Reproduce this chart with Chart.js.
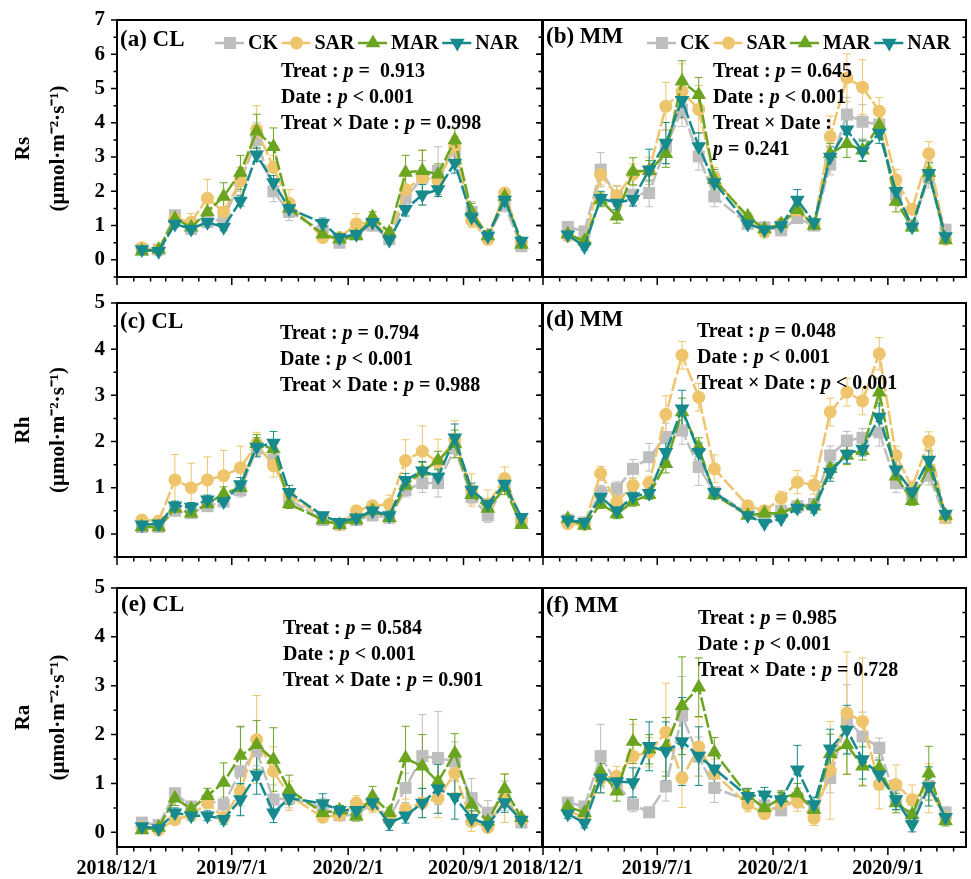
<!DOCTYPE html>
<html>
<head>
<meta charset="utf-8">
<script src="https://cdn.jsdelivr.net/npm/chart.js@4.4.1/dist/chart.umd.min.js"></script>
<style>
  body { margin: 0; background: #fff; }
  #fig { position: relative; width: 971px; height: 879px; overflow: hidden;
         font-family: "Liberation Serif", "Times New Roman", serif; color: #000; }
  #fig canvas { position: absolute; }
  .tag  { position: absolute; font-weight: bold; font-size: 23px; line-height: 26px; white-space: pre; }
  .stat { position: absolute; font-weight: bold; font-size: 20px; line-height: 26px; white-space: pre; }
</style>
</head>
<body>
<div id="fig">
  <canvas id="pA" width="543" height="289" style="left:0;top:0"></canvas>
  <canvas id="pB" width="488" height="289" style="left:483px;top:0"></canvas>
  <canvas id="pC" width="543" height="278" style="left:0;top:291px"></canvas>
  <canvas id="pD" width="488" height="278" style="left:483px;top:291px"></canvas>
  <canvas id="pE" width="543" height="307" style="left:0;top:572px"></canvas>
  <canvas id="pF" width="488" height="307" style="left:483px;top:572px"></canvas>

  <div class="tag" style="left:120px;top:26px">(a) CL</div>
  <div class="tag" style="left:546px;top:23px">(b) MM</div>
  <div class="tag" style="left:120px;top:308px">(c) CL</div>
  <div class="tag" style="left:546px;top:306px">(d) MM</div>
  <div class="tag" style="left:121px;top:591px">(e) CL</div>
  <div class="tag" style="left:546px;top:592px">(f) MM</div>

  <div class="stat" style="left:281px;top:57px">Treat : <i>p</i> =  0.913
Date : <i>p</i> &lt; 0.001
Treat × Date : <i>p</i> = 0.998</div>
  <div class="stat" style="left:713px;top:57px">Treat : <i>p</i> = 0.645
Date : <i>p</i> &lt; 0.001
Treat × Date :
<i>p</i> = 0.241</div>
  <div class="stat" style="left:280px;top:319px">Treat : <i>p</i> = 0.794
Date : <i>p</i> &lt; 0.001
Treat × Date : <i>p</i> = 0.988</div>
  <div class="stat" style="left:697px;top:317px">Treat : <i>p</i> = 0.048
Date : <i>p</i> &lt; 0.001
Treat × Date : <i>p</i> &lt; 0.001</div>
  <div class="stat" style="left:283px;top:614px">Treat : <i>p</i> = 0.584
Date : <i>p</i> &lt; 0.001
Treat × Date : <i>p</i> = 0.901</div>
  <div class="stat" style="left:698px;top:604px">Treat : <i>p</i> = 0.985
Date : <i>p</i> &lt; 0.001
Treat × Date : <i>p</i> = 0.728</div>
</div>

<script>
/* ---------- data ---------- */
// monthly sampling dates (no sample in Nov 2019)
const sampleDates = ['2019/1/16', '2019/2/16', '2019/3/18', '2019/4/17', '2019/5/17', '2019/6/16',
  '2019/7/17', '2019/8/16', '2019/9/16', '2019/10/15', '2019/12/16', '2020/1/16', '2020/2/16',
  '2020/3/17', '2020/4/17', '2020/5/17', '2020/6/17', '2020/7/16', '2020/8/16', '2020/9/16',
  '2020/10/16', '2020/11/16', '2020/12/17'];
const xTickLabels = ['2018/12/1', '2019/7/1', '2020/2/1', '2020/9/1'];
const rsTicks = [0, 1, 2, 3, 4, 5, 6, 7];
const rhTicks = [0, 1, 2, 3, 4, 5];
const raTicks = [0, 1, 2, 3, 4, 5];

// (a) Rs, CL
const rsClCK  = [0.3, 0.3, 1.3, 0.9, 1.1, 1.2, 2.3, 3.5, 2.0, 1.4, 0.85, 0.5, 0.75, 1.0, 0.6, 1.8, 2.4, 2.6, 3.2, 1.4, 0.7, 1.6, 0.4];
const rsClSAR = [0.35, 0.3, 1.2, 1.1, 1.8, 1.4, 2.3, 3.8, 2.7, 1.65, 0.65, 0.65, 1.05, 1.1, 0.7, 2.05, 2.4, 2.3, 3.3, 1.15, 0.6, 1.95, 0.5];
const rsClMAR = [0.25, 0.3, 1.2, 0.95, 1.4, 1.85, 2.55, 3.75, 3.3, 1.5, 0.75, 0.6, 0.7, 1.25, 0.8, 2.55, 2.6, 2.5, 3.5, 1.4, 0.7, 1.85, 0.45];
const rsClNAR = [0.3, 0.25, 1.05, 0.9, 1.1, 0.95, 1.72, 3.07, 2.26, 1.5, 1.07, 0.65, 0.75, 1.1, 0.58, 1.48, 1.9, 2.05, 2.83, 1.25, 0.7, 1.75, 0.55];
const rsClCKsd  = [0.05, 0.05, 0.15, 0.1, 0.15, 0.2, 0.3, 0.5, 0.3, 0.25, 0.15, 0.1, 0.1, 0.15, 0.1, 0.3, 0.5, 0.7, 0.3, 0.3, 0.1, 0.2, 0.1];
const rsClSARsd = [0.05, 0.05, 0.2, 0.25, 0.55, 0.35, 0.4, 0.7, 0.35, 0.4, 0.1, 0.1, 0.3, 0.1, 0.1, 0.4, 0.8, 0.4, 0.3, 0.2, 0.1, 0.1, 0.1];
const rsClMARsd = [0.05, 0.05, 0.15, 0.1, 0.3, 0.4, 0.5, 0.5, 0.55, 0.2, 0.15, 0.1, 0.1, 0.15, 0.1, 0.5, 0.6, 0.3, 0.35, 0.25, 0.1, 0.1, 0.1];
const rsClNARsd = [0.05, 0.05, 0.1, 0.1, 0.1, 0.1, 0.15, 0.2, 0.2, 0.15, 0.15, 0.1, 0.1, 0.1, 0.1, 0.2, 0.3, 0.2, 0.3, 0.15, 0.1, 0.1, 0.1];

// (b) Rs, MM
const rsMmCK  = [0.96, 0.83, 2.63, 1.85, 1.9, 1.95, 3.3, 4.39, 3.02, 1.85, 1.05, 0.95, 0.86, 1.22, 1.0, 2.78, 4.24, 4.03, 3.95, 1.9, 1.0, 2.4, 0.88];
const rsMmSAR = [0.7, 0.5, 2.49, 1.87, 2.5, 2.6, 4.48, 4.92, 4.39, 2.4, 1.2, 0.81, 1.05, 1.45, 1.05, 3.6, 5.31, 5.04, 4.34, 2.34, 1.48, 3.1, 0.6];
const rsMmMAR = [0.75, 0.55, 1.75, 1.27, 2.58, 2.6, 3.1, 5.21, 4.82, 2.34, 1.27, 0.9, 1.05, 1.46, 1.0, 3.1, 3.39, 3.2, 3.92, 1.7, 0.95, 2.55, 0.58];
const rsMmNAR = [0.73, 0.39, 1.8, 1.66, 1.77, 2.63, 3.41, 4.66, 3.31, 2.26, 1.05, 0.88, 1.0, 1.75, 1.09, 3.0, 3.8, 3.17, 3.7, 2.0, 0.97, 2.53, 0.68];
const rsMmCKsd  = [0.1, 0.1, 0.5, 0.3, 0.3, 0.4, 0.5, 0.5, 0.4, 0.3, 0.1, 0.1, 0.1, 0.15, 0.1, 0.3, 0.5, 0.5, 0.3, 0.3, 0.1, 0.3, 0.1];
const rsMmSARsd = [0.1, 0.1, 0.3, 0.3, 0.3, 0.4, 0.7, 0.8, 0.7, 0.3, 0.1, 0.1, 0.15, 0.2, 0.1, 0.6, 0.7, 0.8, 0.4, 0.3, 0.15, 0.35, 0.1];
const rsMmMARsd = [0.1, 0.1, 0.2, 0.2, 0.4, 0.3, 0.4, 0.6, 0.5, 0.3, 0.1, 0.1, 0.1, 0.2, 0.1, 0.3, 0.4, 0.3, 0.3, 0.3, 0.1, 0.3, 0.1];
const rsMmNARsd = [0.1, 0.1, 0.2, 0.2, 0.2, 0.6, 0.6, 0.5, 0.4, 0.3, 0.1, 0.1, 0.1, 0.3, 0.1, 0.3, 0.4, 0.3, 0.3, 0.3, 0.1, 0.3, 0.1];

// (c) Rh, CL
const rhClCK  = [0.15, 0.15, 0.5, 0.45, 0.6, 0.7, 0.95, 1.85, 1.6, 0.75, 0.3, 0.2, 0.3, 0.4, 0.35, 0.95, 1.1, 1.1, 1.85, 0.8, 0.4, 1.05, 0.25];
const rhClSAR = [0.3, 0.28, 1.17, 1.0, 1.17, 1.26, 1.43, 1.95, 1.48, 0.85, 0.35, 0.2, 0.5, 0.61, 0.64, 1.59, 1.79, 1.55, 2.05, 0.95, 0.65, 1.2, 0.3];
const rhClMAR = [0.15, 0.15, 0.55, 0.45, 0.65, 0.87, 1.0, 1.95, 1.84, 0.65, 0.3, 0.2, 0.3, 0.5, 0.35, 1.05, 1.35, 1.59, 1.95, 0.85, 0.55, 1.0, 0.2];
const rhClNAR = [0.2, 0.22, 0.61, 0.58, 0.74, 0.7, 1.07, 1.88, 1.97, 0.9, 0.4, 0.25, 0.35, 0.5, 0.4, 1.16, 1.37, 1.23, 2.08, 0.95, 0.65, 1.08, 0.36];
const rhClCKsd  = [0.05, 0.05, 0.1, 0.1, 0.1, 0.1, 0.15, 0.2, 0.2, 0.1, 0.05, 0.05, 0.05, 0.1, 0.1, 0.15, 0.2, 0.3, 0.2, 0.15, 0.15, 0.1, 0.05];
const rhClSARsd = [0.05, 0.05, 0.55, 0.53, 0.5, 0.55, 0.47, 0.25, 0.25, 0.2, 0.05, 0.05, 0.1, 0.1, 0.2, 0.45, 0.55, 0.5, 0.4, 0.35, 0.3, 0.25, 0.05];
const rhClMARsd = [0.05, 0.05, 0.1, 0.1, 0.1, 0.15, 0.1, 0.2, 0.2, 0.1, 0.05, 0.05, 0.05, 0.1, 0.1, 0.15, 0.2, 0.2, 0.3, 0.15, 0.1, 0.15, 0.05];
const rhClNARsd = [0.05, 0.05, 0.1, 0.1, 0.1, 0.1, 0.15, 0.2, 0.25, 0.15, 0.05, 0.05, 0.1, 0.1, 0.1, 0.15, 0.2, 0.2, 0.3, 0.15, 0.1, 0.15, 0.05];

// (d) Rh, MM
const rhMmCK  = [0.3, 0.25, 0.9, 0.98, 1.41, 1.66, 2.1, 2.24, 1.45, 0.9, 0.45, 0.35, 0.5, 0.6, 0.65, 1.7, 2.02, 2.08, 2.2, 1.1, 0.85, 1.26, 0.35];
const rhMmSAR = [0.22, 0.2, 1.31, 0.69, 1.05, 1.1, 2.59, 3.87, 2.96, 1.41, 0.61, 0.5, 0.77, 1.12, 1.06, 2.64, 3.07, 2.88, 3.9, 1.7, 1.01, 2.01, 0.35];
const rhMmMAR = [0.33, 0.18, 0.65, 0.43, 0.7, 0.85, 1.52, 2.64, 1.88, 0.85, 0.4, 0.45, 0.45, 0.6, 0.6, 1.41, 1.7, 1.8, 3.07, 1.25, 0.72, 1.45, 0.4];
const rhMmNAR = [0.3, 0.25, 0.8, 0.5, 0.81, 0.88, 1.77, 2.71, 1.77, 0.9, 0.4, 0.23, 0.33, 0.56, 0.55, 1.34, 1.73, 1.84, 2.53, 1.39, 0.92, 1.6, 0.43];
const rhMmCKsd  = [0.05, 0.05, 0.15, 0.15, 0.2, 0.3, 0.3, 0.3, 0.4, 0.1, 0.05, 0.05, 0.1, 0.1, 0.1, 0.2, 0.2, 0.2, 0.3, 0.2, 0.1, 0.2, 0.05];
const rhMmSARsd = [0.05, 0.05, 0.15, 0.15, 0.15, 0.15, 0.4, 0.3, 0.3, 0.3, 0.1, 0.1, 0.15, 0.25, 0.2, 0.3, 0.3, 0.3, 0.35, 0.2, 0.1, 0.2, 0.05];
const rhMmMARsd = [0.05, 0.05, 0.1, 0.1, 0.1, 0.1, 0.2, 0.3, 0.2, 0.1, 0.05, 0.05, 0.05, 0.1, 0.1, 0.2, 0.2, 0.2, 0.3, 0.2, 0.1, 0.2, 0.05];
const rhMmNARsd = [0.05, 0.05, 0.15, 0.1, 0.1, 0.1, 0.2, 0.4, 0.2, 0.1, 0.05, 0.05, 0.05, 0.1, 0.1, 0.2, 0.2, 0.15, 0.3, 0.2, 0.1, 0.2, 0.05];

// (e) Ra, CL
const raClCK  = [0.2, 0.15, 0.8, 0.53, 0.65, 0.57, 1.25, 1.66, 0.67, 0.7, 0.5, 0.35, 0.35, 0.6, 0.3, 0.91, 1.56, 1.52, 1.45, 0.7, 0.4, 0.75, 0.2];
const raClSAR = [0.1, 0.05, 0.26, 0.35, 0.6, 0.3, 0.84, 1.9, 1.25, 0.75, 0.31, 0.35, 0.6, 0.55, 0.25, 0.48, 0.6, 0.7, 1.21, 0.22, 0.1, 0.7, 0.25];
const raClMAR = [0.05, 0.1, 0.7, 0.48, 0.75, 1.02, 1.57, 1.79, 1.49, 0.87, 0.4, 0.45, 0.33, 0.74, 0.4, 1.52, 1.35, 1.04, 1.62, 0.57, 0.22, 0.89, 0.3];
const raClNAR = [0.12, 0.08, 0.4, 0.34, 0.34, 0.27, 0.67, 1.18, 0.4, 0.7, 0.59, 0.45, 0.45, 0.61, 0.19, 0.34, 0.6, 0.89, 0.72, 0.29, 0.15, 0.61, 0.25];
const raClCKsd  = [0.05, 0.05, 0.1, 0.1, 0.1, 0.15, 0.9, 0.3, 0.3, 0.2, 0.2, 0.1, 0.1, 0.15, 0.1, 0.3, 0.85, 0.95, 0.4, 0.4, 0.25, 0.3, 0.05];
const raClSARsd = [0.05, 0.05, 0.1, 0.1, 0.1, 0.1, 0.3, 0.9, 0.5, 0.3, 0.1, 0.1, 0.15, 0.15, 0.1, 0.2, 0.3, 0.4, 0.4, 0.2, 0.1, 0.5, 0.05];
const raClMARsd = [0.05, 0.05, 0.15, 0.1, 0.15, 0.4, 0.6, 0.5, 0.65, 0.3, 0.1, 0.1, 0.1, 0.2, 0.1, 0.65, 0.65, 0.4, 0.4, 0.2, 0.1, 0.3, 0.05];
const raClNARsd = [0.05, 0.05, 0.1, 0.1, 0.1, 0.1, 0.33, 0.4, 0.2, 0.1, 0.2, 0.1, 0.15, 0.15, 0.15, 0.15, 0.3, 0.5, 0.45, 0.15, 0.1, 0.2, 0.05];

// (f) Ra, MM
const raMmCK  = [0.61, 0.53, 1.56, 1.0, 0.57, 0.41, 0.94, 2.39, 1.55, 0.91, 0.65, 0.55, 0.45, 0.7, 0.5, 1.11, 2.32, 1.96, 1.73, 0.65, 0.35, 0.95, 0.41];
const raMmSAR = [0.45, 0.3, 1.1, 1.15, 1.56, 1.64, 2.05, 1.11, 1.75, 1.2, 0.57, 0.38, 0.6, 0.63, 0.29, 1.27, 2.44, 2.27, 0.98, 0.98, 0.67, 0.9, 0.3];
const raMmMAR = [0.53, 0.4, 1.25, 0.84, 1.86, 1.7, 1.75, 2.59, 2.97, 1.64, 0.75, 0.5, 0.7, 0.8, 0.46, 1.61, 1.79, 1.35, 1.32, 0.6, 0.36, 1.21, 0.23];
const raMmNAR = [0.38, 0.19, 1.11, 1.04, 1.02, 1.76, 1.66, 1.86, 1.56, 1.3, 0.74, 0.77, 0.67, 1.28, 0.57, 1.71, 2.1, 1.49, 1.18, 0.67, 0.16, 0.94, 0.31];
const raMmCKsd  = [0.1, 0.1, 0.65, 0.2, 0.15, 0.1, 0.3, 0.8, 0.4, 0.3, 0.1, 0.1, 0.1, 0.2, 0.1, 0.3, 0.7, 0.5, 0.2, 0.2, 0.1, 0.2, 0.05];
const raMmSARsd = [0.1, 0.1, 0.3, 0.2, 0.65, 0.3, 1.0, 0.6, 0.6, 0.3, 0.15, 0.1, 0.2, 0.2, 0.15, 1.0, 1.25, 1.3, 0.5, 0.4, 0.3, 0.5, 0.1];
const raMmMARsd = [0.1, 0.1, 0.3, 0.2, 0.45, 0.3, 0.6, 1.0, 0.6, 0.3, 0.15, 0.1, 0.15, 0.2, 0.15, 0.4, 0.6, 0.4, 0.3, 0.2, 0.2, 0.55, 0.1];
const raMmNARsd = [0.1, 0.1, 0.3, 0.2, 0.3, 0.5, 0.6, 0.9, 0.6, 0.3, 0.15, 0.15, 0.15, 0.5, 0.15, 0.4, 0.5, 0.4, 0.3, 0.2, 0.15, 0.4, 0.1];

/* ---------- styles ---------- */
const FONT = '"Liberation Serif", "Times New Roman", serif';
const COLORS = { CK: '#BEBEBE', SAR: '#EEC56C', MAR: '#6BA520', NAR: '#168A8D' };
const MARKS = {
  CK:  { shape: 'rect', r: 8.5, rot: 0 },
  SAR: { shape: 'circle', r: 6.5, rot: 0 },
  MAR: { shape: 'triangle', r: 8.5, rot: 0 },
  NAR: { shape: 'triangle', r: 8.5, rot: 180 },
};
const DRAW_ORDER = { CK: 3, SAR: 2, MAR: 1, NAR: 0 };  // NAR on top
const UNIT = '(µmol·m⁻²·s⁻¹)';

const day0 = Date.UTC(2018, 11, 1);
function toDay(s) {
  const [y, m, d] = s.split('/').map(Number);
  return (Date.UTC(y, m - 1, d) - day0) / 864e5;
}
const xDays = sampleDates.map(toDay);
const xTickDays = xTickLabels.map(toDay);
const X_MAX = 785;

// month starts -> minor ticks on the date axis
const monthDays = [];
for (let i = 0; ; i++) {
  const d = (Date.UTC(2018, 11 + i, 1) - day0) / 864e5;
  if (d > X_MAX) break;
  monthDays.push(d);
}

function drawMarker(ctx, name, x, y) {
  const m = MARKS[name];
  ctx.fillStyle = COLORS[name];
  ctx.beginPath();
  if (m.shape === 'circle') {
    ctx.arc(x, y, m.r, 0, Math.PI * 2);
  } else if (m.shape === 'rect') {
    const h = m.r * Math.SQRT1_2;
    ctx.rect(x - h, y - h, 2 * h, 2 * h);
  } else {
    for (let k = 0; k < 3; k++) {
      const a = m.rot * Math.PI / 180 + k * 2 * Math.PI / 3;
      const px = x + Math.sin(a) * m.r, py = y - Math.cos(a) * m.r;
      if (k) ctx.lineTo(px, py); else ctx.moveTo(px, py);
    }
    ctx.closePath();
  }
  ctx.fill();
}

/* frame, Origin-like ticks, error bars and the in-panel legend */
const decor = {
  id: 'decor',
  beforeDatasetsDraw(chart) {
    const ctx = chart.ctx, ys = chart.scales.y;
    ctx.save();
    ctx.lineWidth = 1;
    chart.data.datasets.forEach((ds, i) => {
      const meta = chart.getDatasetMeta(i);
      ctx.strokeStyle = ds.borderColor;
      ctx.beginPath();
      meta.data.forEach((pt, j) => {
        const e = ds.sd[j];
        if (!e) return;
        const v = ds.data[j].y;
        const y1 = ys.getPixelForValue(v + e), y2 = ys.getPixelForValue(v - e);
        ctx.moveTo(pt.x, y1); ctx.lineTo(pt.x, y2);
        ctx.moveTo(pt.x - 4, y1); ctx.lineTo(pt.x + 4, y1);
        ctx.moveTo(pt.x - 4, y2); ctx.lineTo(pt.x + 4, y2);
      });
      ctx.stroke();
    });
    ctx.restore();
  },
  afterDraw(chart, args, opts) {
    const { ctx, chartArea: { left, right, top, bottom } } = chart;
    const xs = chart.scales.x, ys = chart.scales.y;
    ctx.save();
    ctx.strokeStyle = '#000';
    ctx.lineWidth = 1.5;
    ctx.beginPath();
    for (let v = Math.ceil(ys.min * 2) / 2; v <= ys.max + 1e-6; v += 0.5) {
      const py = ys.getPixelForValue(v);
      const len = v % 1 === 0 ? 6 : 3.5;
      ctx.moveTo(left - len, py); ctx.lineTo(left, py);
      ctx.moveTo(right - len, py); ctx.lineTo(right, py);
    }
    monthDays.forEach(d => {
      const px = xs.getPixelForValue(d);
      const len = xTickDays.includes(d) ? 8 : 4.5;
      ctx.moveTo(px, bottom); ctx.lineTo(px, bottom + len);
    });
    ctx.stroke();
    ctx.lineWidth = 2;
    ctx.strokeRect(left, top, right - left, bottom - top);

    if (opts.legend) {
      let x = opts.legend.x;
      const y = opts.legend.y;
      ctx.font = 'bold 20px ' + FONT;
      ctx.textBaseline = 'middle';
      ctx.textAlign = 'left';
      chart.data.datasets.forEach(ds => {
        ctx.strokeStyle = ds.borderColor;
        ctx.lineWidth = 2.5;
        ctx.setLineDash([13, 3]);
        ctx.beginPath(); ctx.moveTo(x, y); ctx.lineTo(x + 30, y); ctx.stroke();
        ctx.setLineDash([]);
        drawMarker(ctx, ds.label, x + 15, y);
        ctx.fillStyle = '#000';
        ctx.fillText(ds.label, x + 33, y + 1);
        x += 33 + ctx.measureText(ds.label).width + 3.5;
      });
    }
    ctx.restore();
  }
};

// keep the plot box exactly where the layout puts it (no label overflow padding)
function noOverflow(s) {
  s.paddingTop = 0; s.paddingBottom = 0;
  s.paddingLeft = 0; s.paddingRight = 0;
}

function makePanel(id, series, yTicks, yMin, title, opt) {
  const datasets = series.map(s => ({
    label: s.name,
    data: xDays.map((x, j) => ({ x, y: s.vals[j] })),
    sd: s.sd,
    order: DRAW_ORDER[s.name],
    borderColor: COLORS[s.name],
    backgroundColor: COLORS[s.name],
    borderWidth: 2.5,
    borderDash: [14, 3],
    pointStyle: MARKS[s.name].shape,
    pointRotation: MARKS[s.name].rot,
    pointRadius: MARKS[s.name].r,
    pointBorderWidth: 0,
    pointBackgroundColor: COLORS[s.name],
    tension: 0,
  }));
  const isLeft = opt.side === 'left';
  return new Chart(document.getElementById(id), {
    type: 'line',
    data: { datasets },
    options: {
      responsive: false,
      animation: false,
      events: [],
      layout: { autoPadding: false, padding: { top: opt.padTop, right: isLeft ? 1 : 5, left: 0, bottom: 0 } },
      plugins: {
        legend: { display: false },
        tooltip: { enabled: false },
        decor: { legend: opt.legend || null },
      },
      scales: {
        x: {
          type: 'linear',
          min: 0,
          max: X_MAX,
          afterBuildTicks: s => { s.ticks = xTickDays.map(v => ({ value: v })); },
          afterFit: s => { s.height = opt.xLabels ? 32 : 12; noOverflow(s); },
          grid: { display: false, drawTicks: false },
          border: { display: false },
          ticks: {
            display: !!opt.xLabels,
            autoSkip: false,
            maxRotation: 0,
            padding: 10,
            color: '#000',
            font: { family: FONT, size: 20, weight: 'bold' },
            callback: (v, i) => xTickLabels[i],
          },
        },
        y: {
          min: yMin,
          max: yTicks[yTicks.length - 1],
          afterBuildTicks: s => { s.ticks = yTicks.map(v => ({ value: v })); },
          afterFit: s => { s.width = isLeft ? 117 : 60; noOverflow(s); },
          grid: { display: false, drawTicks: false },
          border: { display: false },
          ticks: {
            display: isLeft,
            padding: 12,
            color: '#000',
            font: { family: FONT, size: 21, weight: 'bold' },
          },
          title: {
            display: isLeft,
            text: [title, UNIT],
            color: '#000',
            font: { family: FONT, size: 21, weight: 'bold', lineHeight: 35 / 21 },
            padding: { top: 6.5, bottom: 0 },
          },
        },
      },
    },
    plugins: [decor],
  });
}

const S = (name, vals, sd) => ({ name, vals, sd });

makePanel('pA', [S('CK', rsClCK, rsClCKsd), S('SAR', rsClSAR, rsClSARsd), S('MAR', rsClMAR, rsClMARsd), S('NAR', rsClNAR, rsClNARsd)],
  rsTicks, -0.5, 'Rs', { side: 'left', padTop: 20, legend: { x: 215, y: 43 } });
makePanel('pB', [S('CK', rsMmCK, rsMmCKsd), S('SAR', rsMmSAR, rsMmSARsd), S('MAR', rsMmMAR, rsMmMARsd), S('NAR', rsMmNAR, rsMmNARsd)],
  rsTicks, -0.5, 'Rs', { side: 'right', padTop: 20, legend: { x: 647 - 483, y: 43 } });
makePanel('pC', [S('CK', rhClCK, rhClCKsd), S('SAR', rhClSAR, rhClSARsd), S('MAR', rhClMAR, rhClMARsd), S('NAR', rhClNAR, rhClNARsd)],
  rhTicks, -0.5, 'Rh', { side: 'left', padTop: 12 });
makePanel('pD', [S('CK', rhMmCK, rhMmCKsd), S('SAR', rhMmSAR, rhMmSARsd), S('MAR', rhMmMAR, rhMmMARsd), S('NAR', rhMmNAR, rhMmNARsd)],
  rhTicks, -0.5, 'Rh', { side: 'right', padTop: 12 });
makePanel('pE', [S('CK', raClCK, raClCKsd), S('SAR', raClSAR, raClSARsd), S('MAR', raClMAR, raClMARsd), S('NAR', raClNAR, raClNARsd)],
  raTicks, -0.3, 'Ra', { side: 'left', padTop: 16, xLabels: true });
makePanel('pF', [S('CK', raMmCK, raMmCKsd), S('SAR', raMmSAR, raMmSARsd), S('MAR', raMmMAR, raMmMARsd), S('NAR', raMmNAR, raMmNARsd)],
  raTicks, -0.3, 'Ra', { side: 'right', padTop: 16, xLabels: true });
</script>
</body>
</html>
